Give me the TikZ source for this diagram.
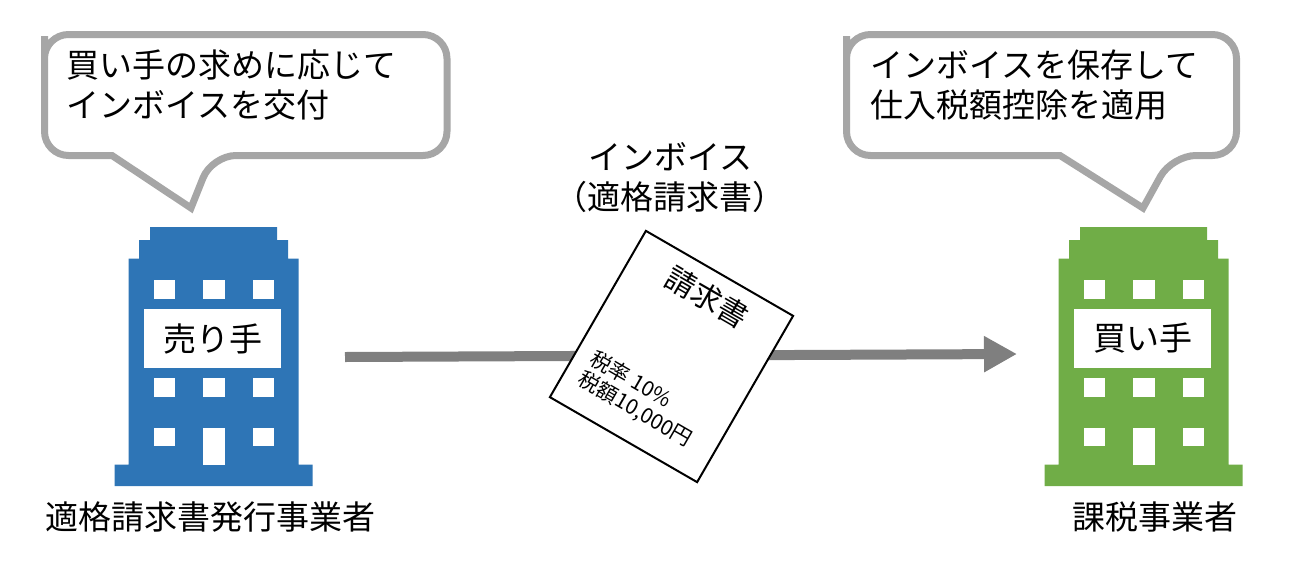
\documentclass[tikz,border=0pt]{standalone}
\usepackage{fontspec}
\setmainfont{Noto Sans CJK JP}
\newfontfamily\docfont{Noto Sans CJK JP}
\usetikzlibrary{arrows.meta}
\definecolor{bubblegray}{HTML}{A6A6A6}
\definecolor{arrowgray}{HTML}{7F7F7F}
\definecolor{bldblue}{HTML}{2E75B6}
\definecolor{bldgreen}{HTML}{70AD47}
\tikzset{
  label33/.style={inner sep=0pt,font=\fontsize{33}{40}\selectfont,align=left},
  bubble/.style={draw=bubblegray,line width=7pt,fill=white,line join=miter},
  winpane/.style={fill=white},
  signbox/.style={fill=white,inner sep=0pt,minimum width=137pt,minimum height=58.5pt,font=\fontsize{33}{40}\selectfont},
  paper/.style={draw=black,line width=2pt,fill=white,inner sep=0pt,minimum width=170pt,minimum height=192pt,rotate=-30},
}
\newcommand{\bldg}[2]{%
  \begin{scope}[shift={(#1,0)}]
    \fill[#2] (150,227) -- (277,227) -- (277,240) -- (288,240) -- (288,258.5) -- (298.5,258.5) -- (298.5,464.5) -- (312.5,464.5) -- (312.5,486) -- (114.5,486) -- (114.5,464.5) -- (128.5,464.5) -- (128.5,258.5) -- (139,258.5) -- (139,240) -- (150,240) -- cycle;
    \foreach \wx in {153.5,203,252.5}{
      \foreach \wy in {280,378}{\fill[winpane] (\wx,\wy) rectangle ++(21.5,18.7);}
    }
    \fill[winpane] (153.5,427.5) rectangle ++(21.5,18.7);
    \fill[winpane] (252.5,427.5) rectangle ++(21.5,18.7);
    \fill[winpane] (203,427.5) rectangle ++(21.5,37);
  \end{scope}}
\begin{document}
\begin{tikzpicture}[x=1pt,y=-1pt]
\useasboundingbox (0,0) rectangle (1298,568);
% bubbles
\draw[bubble,rounded corners=24pt] (44.5,60) -- (44.5,34.5) -- (447,34.5) -- (447,155.5) -- (212,155.5) [sharp corners] -- (191,208) -- (112,155.5) [rounded corners=24pt] -- (44.5,155.5) -- cycle;
\draw[bubble,rounded corners=24pt] (846.5,60) -- (846.5,34.5) -- (1236.5,34.5) -- (1236.5,155.5) -- (1172,155.5) [sharp corners] -- (1143,208) -- (1060,155.5) [rounded corners=24pt] -- (846.5,155.5) -- cycle;
\node[label33,anchor=north west] (t1) at (66,50) {買い手の求めに応じて\\インボイスを交付};
\node[label33,anchor=north west] (t2) at (870,50) {インボイスを保存して\\仕入税額控除を適用};
% buildings
\bldg{0}{bldblue}
\bldg{930}{bldgreen}
\node[signbox] (seller) at (212.5,338.5) {売り手};
\node[signbox] (buyer) at (1142.5,338.5) {買い手};
% arrow
\coordinate (astart) at (345,357);
\coordinate (aend) at (1017,354);
\draw[arrowgray,line width=10pt,-{Triangle[length=33pt,width=34pt]}] (astart) -- (aend);
% invoice
\node[paper] (inv) at (671.5,356.5) {};
\node[inner sep=0pt,rotate=-30,font=\fontsize{30}{36}\selectfont] (invtitle) at (707,297) {請求書};
\node[inner sep=0pt,rotate=-30,anchor=west,align=left,font=\fontsize{21}{24}\selectfont] (invbody) at (586,367.5) {税率 10\%\\税額10,000円};
% labels
\node[inner sep=0pt,font=\fontsize{33}{40}\selectfont,align=center] (lab) at (670,178) {インボイス\\（適格請求書）};
\node[inner sep=0pt,font=\fontsize{33}{40}\selectfont] (cap1) at (210.5,517) {適格請求書発行事業者};
\node[inner sep=0pt,font=\fontsize{33}{40}\selectfont] (cap2) at (1154.5,517) {課税事業者};
\end{tikzpicture}
\end{document}
